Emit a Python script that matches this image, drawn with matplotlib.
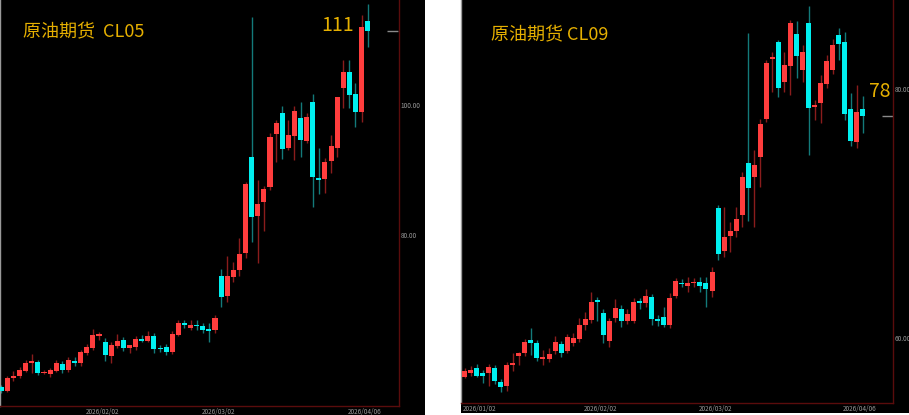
import matplotlib.pyplot as plt
from matplotlib.patches import Rectangle

plt.rcParams["font.family"] = ["Noto Sans CJK SC", "DejaVu Sans"]

UP = "#ff3d3d"
DOWN = "#00f0f0"
UP_WICK = "#8a1c1c"
DOWN_WICK = "#137a7a"
GOLD = "#e6b000"
FRAME = "#5a0c0c"
TICK = "#9a9a9a"

# CL05 daily bars
cl05_open = [56.79, 56.18, 58.08, 58.48, 59.24, 60.47, 60.53, 58.94, 58.74, 59.24,
             60.27, 59.31, 60.78, 60.47, 61.91, 62.77, 64.63, 63.69, 61.50, 62.99,
             63.96, 62.68, 62.84, 64.15, 63.85, 64.61, 62.68, 62.93, 62.11, 64.77,
             66.56, 65.84, 66.26, 66.10, 65.64, 65.49, 73.82, 70.70, 73.62, 74.69,
             77.25, 91.97, 83.02, 85.17, 87.47, 95.55, 98.72, 93.45, 95.29, 98.05,
             94.52, 100.51, 88.76, 88.60, 91.46, 93.36, 102.56, 105.10, 101.69, 98.93,
             112.93]
cl05_high = [57.05, 58.40, 59.20, 59.80, 60.90, 61.81, 60.90, 59.35, 59.60, 60.85,
             60.75, 61.35, 61.35, 62.40, 63.30, 65.60, 65.23, 64.20, 63.60, 64.87,
             64.40, 63.20, 64.50, 64.70, 65.38, 65.00, 63.20, 63.40, 65.30, 67.00,
             67.00, 67.00, 67.00, 66.60, 66.56, 67.79, 74.84, 76.84, 75.90, 79.60,
             88.20, 113.45, 88.50, 87.60, 95.75, 97.70, 99.90, 97.70, 99.85, 100.50,
             98.80, 101.64, 93.40, 91.87, 95.40, 101.27, 106.90, 106.90, 103.37, 113.80,
             115.49]
cl05_low = [55.78, 56.00, 57.60, 58.10, 59.00, 58.94, 58.60, 58.70, 58.30, 59.00,
            58.90, 59.00, 59.95, 59.95, 61.65, 62.45, 63.95, 60.73, 60.47, 62.75,
            62.25, 61.96, 62.40, 63.60, 63.60, 62.00, 62.10, 61.65, 61.80, 64.50,
            65.80, 65.50, 65.50, 65.00, 63.65, 65.00, 69.07, 69.78, 72.85, 73.77,
            76.50, 79.03, 75.77, 80.67, 86.96, 91.25, 91.76, 93.10, 91.56, 92.07,
            94.20, 84.40, 86.35, 86.55, 89.57, 92.07, 99.54, 99.58, 96.63, 97.44,
            108.94]
cl05_close = [56.18, 58.12, 58.43, 59.35, 60.47, 60.69, 58.94, 59.09, 59.31, 60.38,
              59.35, 60.84, 60.47, 62.07, 62.93, 64.68, 64.83, 61.61, 63.23, 63.85,
              62.73, 63.14, 64.11, 63.85, 64.61, 62.57, 62.53, 62.11, 64.83, 66.52,
              66.21, 66.26, 66.06, 65.54, 65.38, 67.28, 70.50, 73.82, 74.69, 77.10,
              87.93, 82.77, 84.86, 87.11, 95.14, 97.19, 93.25, 95.35, 99.08, 94.63,
              98.11, 88.96, 88.45, 91.30, 93.76, 101.18, 105.01, 101.58, 98.93, 112.01,
              111.30]
cl05_dates = ["2026/02/02", "2026/03/02", "2026/04/06"]
cl05_date_idx = [16, 35, 59]
cl05_yticks = [80, 100]

# CL09 daily bars
cl09_open = [57.86, 56.87, 57.19, 57.64, 57.21, 57.19, 57.64, 56.46, 56.17, 57.83,
             58.60, 58.80, 59.86, 59.65, 58.36, 58.36, 58.98, 59.54, 58.98, 59.65,
             59.94, 61.04, 61.45, 63.05, 62.06, 59.81, 61.60, 62.35, 61.37, 61.37,
             62.97, 62.81, 63.29, 61.53, 61.69, 61.07, 63.42, 64.42, 64.22, 64.42,
             64.50, 64.42, 63.80, 70.49, 67.04, 68.24, 68.64, 69.93, 74.06, 72.93,
             74.59, 77.59, 82.46, 83.78, 80.59, 81.90, 84.47, 81.55, 85.35, 78.60,
             78.88, 80.42, 81.55, 84.39, 83.78, 78.44, 75.79, 78.42]
cl09_high = [58.10, 57.60, 57.78, 57.94, 57.45, 57.90, 57.85, 56.73, 58.10, 58.79,
             58.92, 59.94, 60.83, 59.86, 59.06, 59.22, 60.17, 59.78, 60.34, 60.42,
             61.63, 62.11, 63.69, 63.34, 62.35, 61.63, 63.13, 62.67, 62.35, 63.24,
             63.26, 63.94, 63.56, 61.86, 62.54, 63.64, 64.84, 64.76, 64.94, 64.83,
             64.90, 64.94, 65.72, 70.71, 70.57, 69.36, 70.57, 73.38, 84.55, 75.12,
             77.59, 82.35, 83.02, 83.96, 83.02, 85.57, 85.51, 83.56, 86.69, 79.14,
             81.15, 82.76, 84.02, 84.90, 84.63, 79.68, 80.35, 79.46]
cl09_low = [56.70, 56.79, 56.97, 56.85, 56.41, 56.17, 56.35, 55.71, 55.77, 57.37,
            57.86, 58.57, 58.66, 58.16, 57.86, 58.10, 58.75, 58.48, 58.82, 59.37,
            59.70, 60.67, 61.20, 61.39, 59.65, 59.33, 61.31, 60.93, 61.13, 61.20,
            62.35, 62.55, 61.07, 61.00, 60.91, 60.83, 63.20, 64.12, 63.72, 64.10,
            63.72, 62.54, 63.34, 66.29, 66.55, 66.96, 68.16, 68.96, 69.42, 68.96,
            72.17, 77.37, 79.81, 79.41, 79.81, 79.54, 80.88, 80.61, 74.72, 77.53,
            77.27, 80.10, 81.20, 82.35, 77.53, 75.47, 75.26, 76.47]
cl09_close = [56.89, 57.40, 57.48, 56.99, 56.99, 57.67, 56.55, 56.11, 57.83, 58.04,
              58.80, 59.70, 59.65, 58.39, 58.52, 58.76, 59.73, 58.84, 60.10, 60.00,
              61.07, 61.57, 62.92, 62.94, 60.24, 61.39, 62.41, 61.39, 61.95, 62.94,
              62.84, 63.42, 61.53, 61.41, 61.04, 63.24, 64.60, 64.34, 64.46, 64.48,
              64.20, 63.94, 65.30, 66.80, 68.16, 68.64, 69.58, 72.93, 72.10, 73.92,
              77.21, 82.14, 82.57, 80.08, 81.95, 85.30, 82.68, 83.02, 78.52, 78.76,
              80.53, 82.30, 83.58, 83.66, 77.99, 75.85, 78.20, 77.88]
cl09_dates = ["2026/01/02", "2026/02/02", "2026/03/02", "2026/04/06"]
cl09_date_idx = [3, 23, 42, 66]
cl09_yticks = [60, 80]


def draw_candles(ax, o, h, l, c, xlim, ylim, dates, date_idx, yticks):
    ax.set_facecolor("black")
    ax.set_xlim(*xlim)
    ax.set_ylim(*ylim)
    px = (ylim[1] - ylim[0]) / (ax.get_position().height * ax.figure.bbox.height)
    xs = range(len(o))
    up = [ci >= oi for oi, ci in zip(o, c)]
    ax.vlines(xs, l, h, colors=[UP_WICK if u else DOWN_WICK for u in up],
              linewidth=1.0, zorder=2)
    bottoms = [min(oi, ci) for oi, ci in zip(o, c)]
    heights = [max(abs(ci - oi), 1.1 * px) for oi, ci in zip(o, c)]
    ax.bar(xs, heights, bottom=bottoms, width=0.83,
           color=[UP if u else DOWN for u in up], linewidth=0, zorder=3)

    # last price marker
    n = len(c) - 1
    ax.hlines(c[-1], n + 3.2, n + 4.9, colors="#8a8a8a", linewidth=1.0, zorder=2)

    ax.set_xticks([i + 0.5 for i in date_idx])
    ax.set_xticklabels(dates)
    ax.set_xticks([date_idx[-1] + 0.5], minor=True)
    ax.tick_params(axis="x", which="major", length=0, pad=1.5, labelsize=4.6,
                   labelcolor=TICK)
    ax.tick_params(axis="x", which="minor", length=4, direction="in",
                   color="#777777", width=0.8)
    ax.yaxis.tick_right()
    ax.set_yticks(yticks)
    ax.set_yticklabels([f"{v:.2f}" for v in yticks])
    ax.tick_params(axis="y", length=0, pad=1, labelsize=4.6, labelcolor=TICK)
    for name in ("right", "bottom"):
        ax.spines[name].set_color(FRAME)
        ax.spines[name].set_linewidth(1.0)
    ax.spines["top"].set_visible(False)
    ax.spines["left"].set_color("#9a9a9a")
    ax.spines["left"].set_linewidth(1.0)


fig = plt.figure(figsize=(9.09, 4.15), dpi=100, facecolor="white")
W, H = 909, 415
fig.patches.append(Rectangle((0, 0), 425 / W, 1, transform=fig.transFigure,
                             facecolor="black", edgecolor="none", zorder=-5))
fig.patches.append(Rectangle((461 / W, 2 / H), 448 / W, 413 / H,
                             transform=fig.transFigure, facecolor="black",
                             edgecolor="none", zorder=-5))

ax1 = fig.add_axes([0, 9 / H, 399 / W, 406 / H])
draw_candles(ax1, cl05_open, cl05_high, cl05_low, cl05_close,
             (-0.21, 65.13), (53.83, 116.1), cl05_dates, cl05_date_idx, cl05_yticks)
ax1.text(0.058, 0.921, "原油期货  CL05", transform=ax1.transAxes, color=GOLD,
         fontsize=13, ha="left", va="center")
ax1.text(0.845, 0.938, f"{cl05_close[-1]:.0f}", transform=ax1.transAxes,
         color=GOLD, fontsize=14, ha="center", va="center")

ax2 = fig.add_axes([461 / W, 12 / H, 432 / W, 403 / H])
draw_candles(ax2, cl09_open, cl09_high, cl09_low, cl09_close,
             (0.42, 71.98), (54.8, 87.17), cl09_dates, cl09_date_idx, cl09_yticks)
ax2.text(0.069, 0.913, "原油期货 CL09", transform=ax2.transAxes, color=GOLD,
         fontsize=13, ha="left", va="center")
ax2.text(0.969, 0.774, f"{cl09_close[-1]:.0f}", transform=ax2.transAxes,
         color=GOLD, fontsize=14, ha="center", va="center")

fig.savefig("out.png", dpi=100, facecolor="white")
